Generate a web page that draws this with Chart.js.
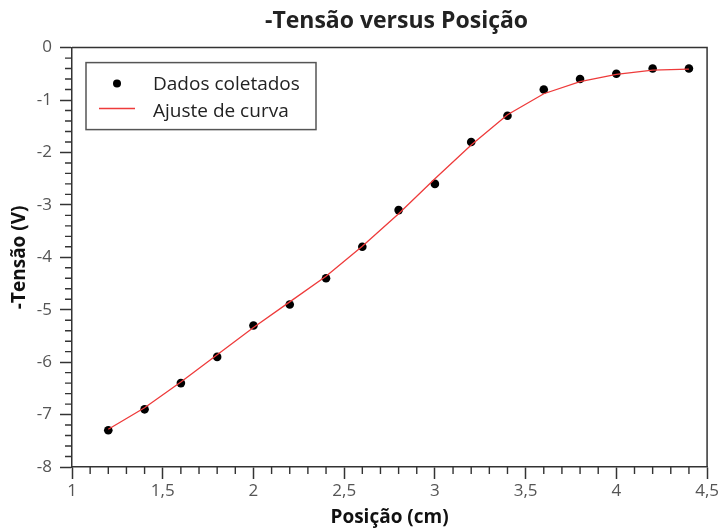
<!DOCTYPE html>
<html>
<head>
<meta charset="utf-8">
<script src="https://cdn.jsdelivr.net/npm/chart.js@4/dist/chart.umd.min.js"></script>
<style>
html,body{margin:0;padding:0;background:#fff;}
#wrap{width:721px;height:529px;}
</style>
</head>
<body>
<div id="wrap"><canvas id="c" width="721" height="529"></canvas></div>
<script>
const positions = [1.2, 1.4, 1.6, 1.8, 2.0, 2.2, 2.4, 2.6, 2.8, 3.0, 3.2, 3.4, 3.6, 3.8, 4.0, 4.2, 4.4];
const measured  = [-7.3, -6.9, -6.4, -5.9, -5.3, -4.9, -4.4, -3.8, -3.1, -2.6, -1.8, -1.3, -0.8, -0.6, -0.5, -0.4, -0.4];
const fitted    = [-7.28, -6.87, -6.38, -5.86, -5.34, -4.85, -4.36, -3.79, -3.17, -2.5, -1.86, -1.28, -0.88, -0.65, -0.51, -0.43, -0.41];
const xMajorTicks = [1, 1.5, 2, 2.5, 3, 3.5, 4, 4.5];
const yMajorTicks = [0, -1, -2, -3, -4, -5, -6, -7, -8];
const chartTitle = '-Tensão versus Posição';
const xTitle = 'Posição (cm)';
const yTitle = '-Tensão (V)';
const seriesNames = ['Dados coletados', 'Ajuste de curva'];

const FONT = "'Open Sans', 'Noto Sans', sans-serif";
const fmt = v => String(Math.round(v * 10) / 10).replace('.', ',');

const titleShift = {
  id: 'titleShift',
  afterLayout(chart) {
    const t = chart.titleBlock;
    if (t) { t.left += 7; t.right += 7; }
  }
};

const framePlugin = {
  id: 'frame',
  afterDraw(chart) {
    const {ctx, chartArea: a, scales} = chart;
    ctx.save();
    ctx.strokeStyle = '#333';
    ctx.lineWidth = 1.5;
    ctx.beginPath();
    ctx.moveTo(a.left, a.top); ctx.lineTo(a.right, a.top); ctx.lineTo(a.right, a.bottom);
    ctx.stroke();
    ctx.lineWidth = 1.4;
    ctx.beginPath();
    const xs = scales.x, ys = scales.y;
    for (let i = 10; i <= 45; i++) {
      if (i % 5 === 0) continue;
      const px = xs.getPixelForValue(i / 10);
      ctx.moveTo(px, a.bottom); ctx.lineTo(px, a.bottom + 7);
    }
    for (let i = -40; i <= 0; i++) {
      if (i % 5 === 0) continue;
      const py = ys.getPixelForValue(i / 5);
      ctx.moveTo(a.left, py); ctx.lineTo(a.left - 7, py);
    }
    ctx.stroke();
    ctx.restore();
  }
};

const legendPlugin = {
  id: 'insideLegend',
  afterDraw(chart) {
    const {ctx, chartArea: a} = chart;
    const ds = chart.data.datasets;
    const x = a.left + 14, y = a.top + 15, w = 230, h = 67;
    ctx.save();
    ctx.fillStyle = '#fff';
    ctx.fillRect(x, y, w, h);
    ctx.strokeStyle = '#555';
    ctx.lineWidth = 1.5;
    ctx.strokeRect(x, y, w, h);
    ctx.font = "19px " + FONT;
    ctx.textBaseline = 'middle';
    const dotDs = ds.find(d => d.label === seriesNames[0]);
    const lineDs = ds.find(d => d.label === seriesNames[1]);
    ctx.beginPath();
    ctx.arc(x + 31, y + 21, 4, 0, Math.PI * 2);
    ctx.fillStyle = dotDs.backgroundColor;
    ctx.fill();
    ctx.fillStyle = '#222';
    ctx.fillText(dotDs.label, x + 67, y + 22);
    ctx.beginPath();
    ctx.strokeStyle = lineDs.borderColor;
    ctx.lineWidth = 1.5;
    ctx.moveTo(x + 13, y + 46); ctx.lineTo(x + 49, y + 46);
    ctx.stroke();
    ctx.fillText(lineDs.label, x + 67, y + 49);
    ctx.restore();
  }
};

new Chart(document.getElementById('c'), {
  type: 'scatter',
  data: {
    datasets: [
      {
        label: seriesNames[1],
        data: positions.map((p, i) => ({x: p, y: fitted[i]})),
        showLine: true,
        borderColor: '#ee3b3b',
        borderWidth: 1.3,
        pointRadius: 0,
        tension: 0,
        order: 0
      },
      {
        label: seriesNames[0],
        data: positions.map((p, i) => ({x: p, y: measured[i]})),
        backgroundColor: '#000',
        borderColor: '#000',
        pointRadius: 4.3,
        pointBorderWidth: 0,
        order: 1
      }
    ]
  },
  options: {
    responsive: false,
    animation: false,
    layout: {padding: {left: 0, right: 13, top: 0, bottom: 0}},
    plugins: {
      legend: {display: false},
      tooltip: {enabled: false},
      title: {
        display: true,
        text: chartTitle,
        fullSize: false,
        color: '#222',
        font: {family: FONT, size: 23, weight: 'bold'},
        padding: {top: 8, bottom: 12}
      }
    },
    scales: {
      x: {
        type: 'linear',
        min: 1, max: 4.5,
        afterBuildTicks: s => { s.ticks = xMajorTicks.map(v => ({value: v})); },
        afterFit: s => { s.height = 62; },
        ticks: {
          callback: v => fmt(v),
          color: '#555',
          font: {family: FONT, size: 17},
          padding: 2,
          maxRotation: 0
        },
        grid: {drawOnChartArea: false, drawTicks: true, tickLength: 12, tickColor: '#333', tickWidth: 1.5},
        border: {display: true, color: '#333', width: 1.5},
        title: {display: true, text: xTitle, color: '#111', font: {family: FONT, size: 19, weight: 'bold'}, padding: {top: 0, bottom: 0}}
      },
      y: {
        type: 'linear',
        min: -8, max: 0,
        afterBuildTicks: s => { s.ticks = yMajorTicks.map(v => ({value: v})); },
        afterFit: s => { s.width = 72; },
        ticks: {
          callback: v => fmt(v),
          color: '#555',
          font: {family: FONT, size: 17},
          padding: 8
        },
        grid: {drawOnChartArea: false, drawTicks: true, tickLength: 12, tickColor: '#333', tickWidth: 1.5},
        border: {display: true, color: '#333', width: 1.5},
        title: {display: true, text: yTitle, color: '#111', font: {family: FONT, size: 19, weight: 'bold'}, padding: {top: 8, bottom: 0}}
      }
    }
  },
  plugins: [titleShift, framePlugin, legendPlugin]
});
</script>
</body>
</html>
